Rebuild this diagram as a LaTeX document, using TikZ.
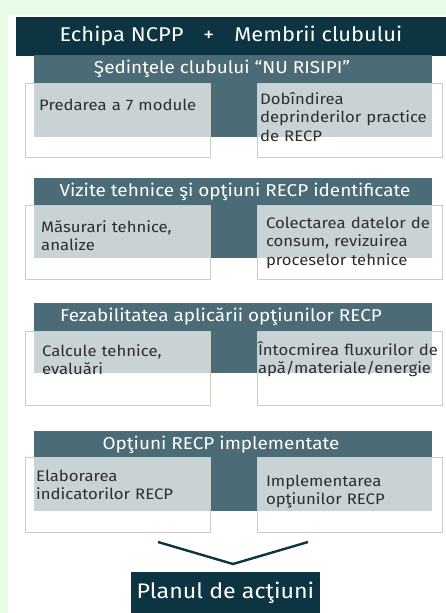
\documentclass[tikz,border=0pt]{standalone}
\usepackage{fontspec}
\setmainfont{Fira Sans}[FakeStretch=1.1]
\usepackage{tikz}
\usetikzlibrary{positioning}
\definecolor{navy}{HTML}{0C3441}
\definecolor{slate}{HTML}{4B6C76}
\definecolor{frame}{HTML}{CCCCC4}
\definecolor{mint}{HTML}{E8FCE8}
\definecolor{ink}{HTML}{2E2E2E}

\begin{document}
\begin{tikzpicture}[
    x=1pt, y=-1pt,
    topbar/.style={rectangle, fill=navy, text=white, minimum width=430pt, minimum height=39pt, inner sep=0pt, font=\fontsize{19.9}{21}\selectfont},
    stage/.style={rectangle, fill=slate, minimum width=398pt, inner sep=0pt, anchor=north},
    stagetitle/.style={anchor=north, minimum height=28pt, inner sep=0pt, text=white, font=\fontsize{17.2}{19}\selectfont},
    box/.style={rectangle, draw=frame, line width=0.8pt, fill=white, fill opacity=0.7, text opacity=1, text=ink, anchor=north west, inner ysep=0pt, inner xsep=1pt, text width=183pt, text height=24pt, text depth=50pt, align=left, font=\fontsize{15.2}{18.5}\selectfont, execute at begin node={\leftskip=#1}},
    box/.default=8pt,
    vee/.style={draw=navy, line width=2.4pt},
    plan/.style={rectangle, fill=navy, text=white, minimum width=189pt, minimum height=41pt, inner sep=0pt, font=\fontsize{21.1}{23}\selectfont}
]
\useasboundingbox (0,0) rectangle (446,613);
\fill[mint] (0,0) rectangle (446,613);
\fill[white] (8,15) rectangle (446,613);

\node[topbar] (team) at (231,36) {Echipa NCPP\quad+\quad Membrii clubului};

% Sedintele clubului
\node[stage, minimum height=82pt] (s1) at (233,55) {};
\node[stagetitle] (t1) at ([xshift=-11pt]s1.north) {Şedinţele clubului “NU RISIPI”};
\node[box=13pt, text height=27pt, text depth=47pt] (a1) at ([xshift=-9pt, yshift=-28pt]s1.north west) {Predarea a 7 module};
\node[box=2pt, text height=21pt, text depth=53pt, right=46pt of a1] (b1) {Dobîndirea\\deprinderilor practice\\de RECP};

% Vizite tehnice
\node[stage, minimum height=80pt] (s2) at (233,178) {};
\node[stagetitle] (t2) at ([xshift=2pt]s2.north) {Vizite tehnice şi opţiuni RECP identificate};
\node[box=15pt, text height=27pt, text depth=47pt] (a2) at ([xshift=-9pt, yshift=-27pt]s2.north west) {Măsurari tehnice,\\analize};
\node[box=8pt, text height=23pt, text depth=51pt, right=46pt of a2] (b2) {Colectarea datelor de\\consum, revizuirea\\proceselor tehnice};

% Fezabilitatea
\node[stage, minimum height=70pt] (s3) at (233,303) {};
\node[stagetitle] (t3) at ([xshift=-12pt]s3.north) {Fezabilitatea aplicării opţiunilor RECP};
\node[box=16pt, text height=25pt, text depth=49pt] (a3) at ([xshift=-9pt, yshift=-28pt]s3.north west) {Calcule tehnice,\\evaluări};
\node[box=0pt, right=46pt of a3] (b3) {Întocmirea fluxurilor de\\apă/materiale/energie};

% Optiuni implementate
\node[stage, minimum height=80pt] (s4) at (233,431) {};
\node[stagetitle] (t4) at ([xshift=-12pt]s4.north) {Opţiuni RECP implementate};
\node[box=10pt, text height=24pt, text depth=51pt] (a4) at ([xshift=-9pt, yshift=-26pt]s4.north west) {Elaborarea\\indicatorilor RECP};
\node[box=8pt, text height=29pt, text depth=46pt, right=46pt of a4] (b4) {Implementarea\\opţiunilor RECP};

\coordinate (vl) at (158,542);
\coordinate (vtip) at (233,564);
\coordinate (vr) at (308,542);
\draw[vee] (vl) -- (vtip) -- (vr);

\node[plan] (plan) at (225.5,592.5) {Planul de acţiuni};

\end{tikzpicture}
\end{document}
